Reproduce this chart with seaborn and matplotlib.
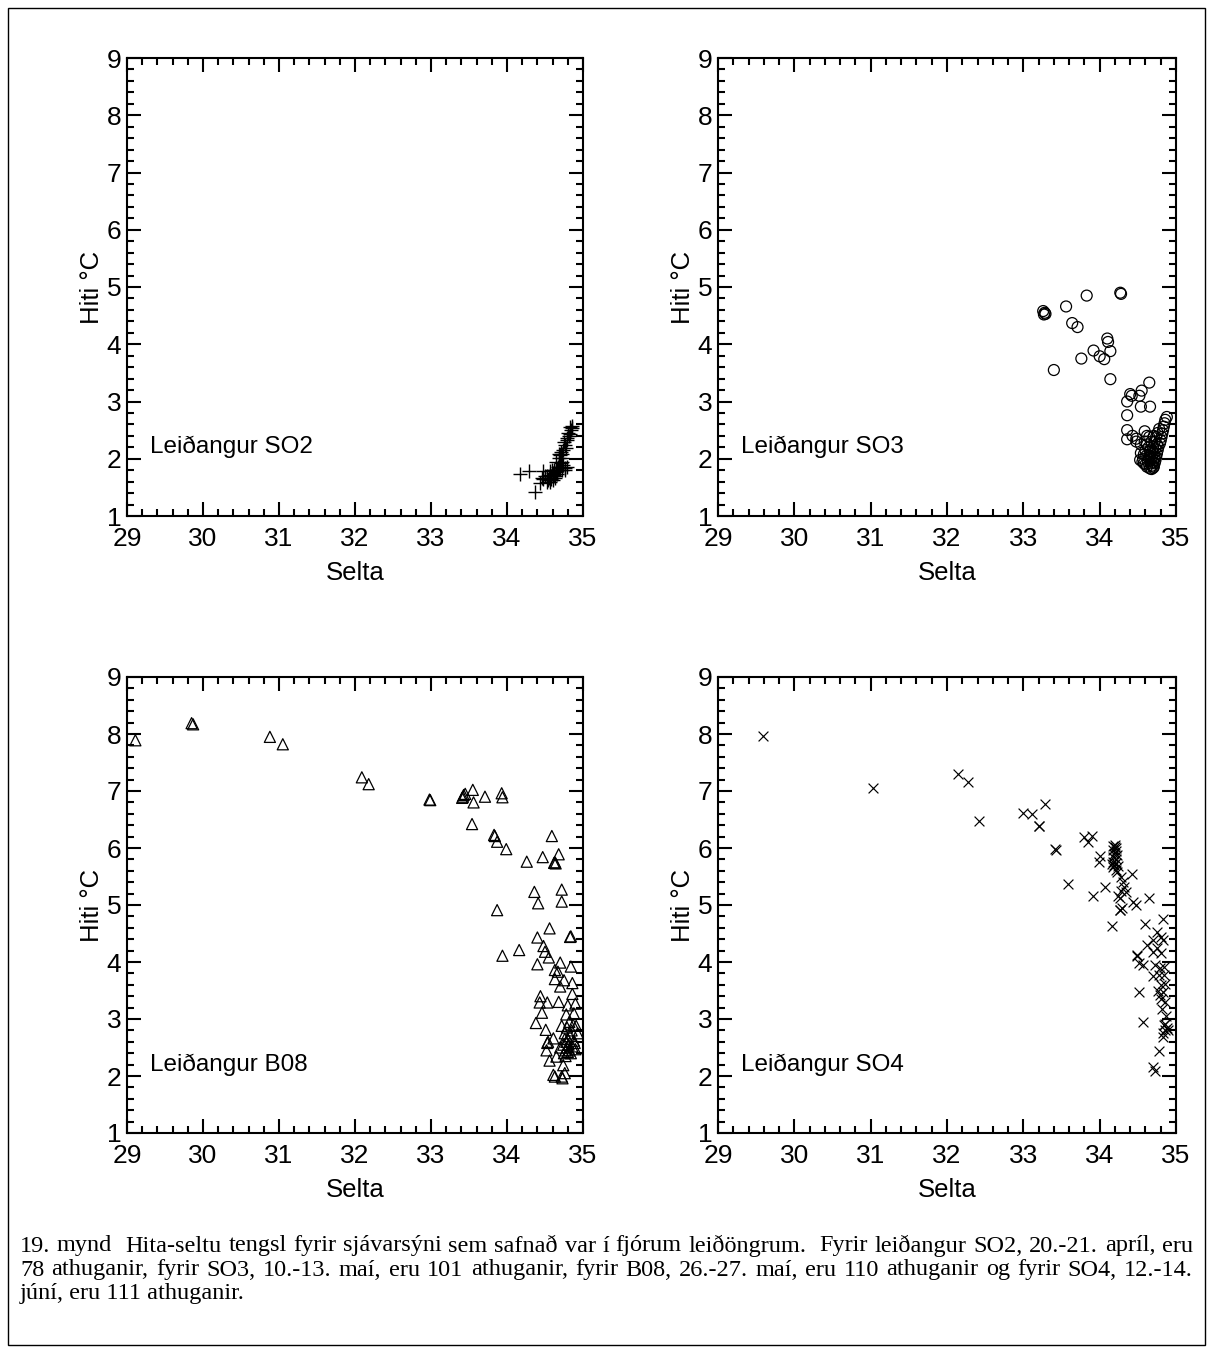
import matplotlib
matplotlib.use("Agg")
import matplotlib.pyplot as plt
from matplotlib.ticker import MultipleLocator
from matplotlib.patches import Rectangle
import seaborn as sns
import pandas as pd

# ---------------- data ----------------
so2_salt = [34.17, 34.29, 34.37, 34.48, 34.46, 34.50, 34.54, 34.57, 34.59, 34.61, 34.63, 34.65, 34.68,
            34.70, 34.72, 34.74, 34.76, 34.68, 34.70, 34.72, 34.74, 34.76, 34.79, 34.81, 34.83, 34.85,
            34.83, 34.79, 34.75, 34.63, 34.57, 34.52, 34.48, 34.43, 34.76, 34.79, 34.65, 34.69, 34.71,
            34.55, 34.58, 34.60, 34.62, 34.64, 34.66, 34.60, 34.67, 34.71, 34.73, 34.77, 34.80, 34.84,
            34.86, 34.73, 34.56, 34.53, 34.58, 34.62, 34.66]
so2_temp = [1.73, 1.79, 1.42, 1.79, 1.66, 1.69, 1.63, 1.72, 1.80, 1.75, 1.66, 1.77, 1.83,
            1.86, 1.80, 1.89, 1.83, 2.01, 2.07, 2.09, 2.15, 2.24, 2.33, 2.39, 2.44, 2.53,
            2.56, 2.36, 2.30, 1.69, 1.60, 1.60, 1.64, 1.57, 1.80, 1.85, 1.95, 2.09, 2.12,
            1.66, 1.69, 1.63, 1.72, 1.78, 1.74, 1.70, 1.86, 1.92, 1.95, 2.18, 2.45, 2.50,
            2.58, 2.01, 1.78, 1.70, 1.64, 1.80, 1.81]

so3_salt = [33.26, 33.27, 33.28, 33.29, 33.56, 33.83, 33.64, 33.71, 33.40, 33.76, 33.92, 34.27, 34.28,
            34.00, 34.06, 34.10, 34.11, 34.14, 34.14, 34.65, 34.55, 34.40, 34.42, 34.36, 34.52, 34.54,
            34.66, 34.36, 34.88, 34.36, 34.36, 34.43, 34.48, 34.59, 34.71,
            34.86, 34.85, 34.84, 34.83, 34.82, 34.81, 34.80, 34.79, 34.77, 34.76, 34.75, 34.74, 34.73,
            34.72, 34.71,
            34.54, 34.54, 34.53, 34.58, 34.62, 34.66, 34.68, 34.70,
            34.62, 34.66, 34.69, 34.64, 34.70, 34.72, 34.60, 34.63, 34.67, 34.69, 34.71, 34.73, 34.68,
            34.65, 34.61, 34.57, 34.59, 34.74, 34.76, 34.78, 34.70, 34.66, 34.72, 34.75, 34.64, 34.58,
            34.56, 34.60, 34.67, 34.69, 34.62, 34.48]
so3_temp = [4.58, 4.52, 4.55, 4.53, 4.66, 4.85, 4.37, 4.30, 3.55, 3.75, 3.89, 4.90, 4.88,
            3.79, 3.74, 4.10, 4.04, 3.88, 3.39, 3.33, 3.19, 3.13, 3.10, 3.00, 3.10, 2.91,
            2.91, 2.76, 2.73, 2.50, 2.34, 2.40, 2.35, 2.48, 2.40,
            2.68, 2.62, 2.56, 2.50, 2.44, 2.38, 2.32, 2.27, 2.21, 2.15, 2.09, 2.03, 1.97,
            1.92, 1.86,
            2.25, 2.10, 1.98, 1.92, 1.86, 1.83, 1.82, 1.84,
            2.25, 2.13, 2.02, 2.02, 2.20, 2.30, 2.15, 1.95, 1.92, 1.88, 2.10, 2.18, 2.30,
            2.38, 2.05, 2.00, 2.30, 2.38, 2.45, 2.52, 1.95, 2.05, 2.02, 2.25, 2.20, 2.08,
            1.95, 1.90, 1.99, 2.12, 2.40, 2.30]

b08_salt = [29.11, 29.85, 29.87, 30.88, 31.05, 32.09, 32.18, 32.98, 32.99, 33.42, 33.43, 33.45, 33.41,
            33.55, 33.56, 33.71, 33.93, 33.94, 33.54, 33.83, 33.84, 33.87, 33.99, 34.26, 34.47, 34.59,
            34.62, 34.63, 34.64, 34.68, 34.36, 34.41, 34.72, 34.72, 33.87, 33.94, 34.16, 34.40, 34.56,
            34.83, 34.84, 34.48, 34.50, 34.55, 34.40, 34.70, 34.84, 34.63, 34.67, 34.63, 34.75, 34.86,
            34.70, 34.44, 34.43, 34.53, 34.46, 34.68, 34.86, 34.80, 34.90, 34.78, 34.88, 34.38, 34.51,
            34.82, 34.61, 34.53, 34.54, 34.52, 34.65, 34.56, 34.74, 34.76, 34.61, 34.63, 34.72, 34.73,
            34.75, 34.77, 34.79, 34.81, 34.78, 34.80, 34.83, 34.76, 34.85, 34.79, 34.93, 34.88, 34.82,
            34.86, 34.74, 34.77, 34.80, 34.84, 34.89, 34.90, 34.76, 34.72, 34.87, 34.91, 34.70]
b08_temp = [7.89, 8.19, 8.17, 7.95, 7.82, 7.24, 7.12, 6.85, 6.84, 6.90, 6.93, 6.95, 6.88,
            7.02, 6.80, 6.90, 6.96, 6.89, 6.42, 6.23, 6.21, 6.11, 5.98, 5.76, 5.84, 6.21,
            5.74, 5.75, 5.73, 5.89, 5.23, 5.03, 5.27, 5.06, 4.91, 4.11, 4.21, 4.43, 4.59,
            4.44, 4.45, 4.28, 4.18, 4.08, 3.96, 3.99, 3.92, 3.86, 3.83, 3.70, 3.68, 3.63,
            3.57, 3.40, 3.29, 3.29, 3.11, 3.30, 3.44, 3.24, 3.27, 3.08, 3.10, 2.93, 2.81,
            2.95, 2.66, 2.58, 2.60, 2.45, 2.34, 2.27, 2.19, 2.05, 2.02, 1.99, 1.99, 1.96,
            2.40, 2.45, 2.50, 2.55, 2.60, 2.65, 2.70, 2.75, 2.80, 2.85, 2.75, 2.62, 2.45,
            2.52, 2.55, 2.35, 2.42, 2.40, 2.58, 2.47, 2.65, 2.88, 2.90, 2.88, 2.50]

so4_salt = [29.59, 31.03, 32.15, 32.28, 32.42, 33.00, 33.11, 33.28, 33.20, 33.21, 33.42, 33.43, 33.59,
            33.79, 33.85, 33.90, 34.00, 33.99, 33.91, 34.07, 34.16,
            34.18, 34.20, 34.22, 34.17, 34.21, 34.19, 34.23, 34.18, 34.21, 34.17, 34.22, 34.19, 34.24,
            34.18, 34.21, 34.23, 34.20, 34.16,
            34.28, 34.30, 34.32, 34.28, 34.34, 34.24, 34.27, 34.26, 34.27, 34.29, 34.42, 34.44, 34.48,
            34.65, 34.59, 34.83,
            34.75, 34.81, 34.70, 34.83, 34.62, 34.75, 34.70, 34.81, 34.49, 34.49, 34.51, 34.57, 34.73,
            34.79, 34.84, 34.70, 34.78, 34.84, 34.80, 34.86, 34.77, 34.83, 34.81, 34.86, 34.79, 34.51,
            34.57, 34.84, 34.88, 34.86, 34.83, 34.89, 34.85, 34.83, 34.78, 34.70, 34.72, 34.87, 34.82]
so4_temp = [7.97, 7.06, 7.29, 7.15, 6.48, 6.61, 6.60, 6.77, 6.39, 6.38, 5.98, 5.97, 5.37,
            6.19, 6.11, 6.21, 5.86, 5.76, 5.16, 5.32, 4.64,
            6.04, 6.02, 6.00, 5.97, 5.95, 5.90, 5.88, 5.84, 5.80, 5.76, 5.73, 5.70, 5.68,
            5.66, 5.62, 5.58, 6.05, 5.72,
            5.50, 5.41, 5.32, 5.25, 5.23, 5.16, 5.13, 4.92, 4.91, 4.94, 5.54, 5.06, 5.00,
            5.13, 4.67, 4.75,
            4.53, 4.44, 4.39, 4.39, 4.30, 4.24, 4.18, 4.15, 4.12, 4.10, 3.98, 3.95, 3.95,
            3.90, 3.92, 3.75, 3.78, 3.78, 3.60, 3.62, 3.50, 3.48, 3.35, 3.30, 3.42, 3.48,
            2.94, 2.89, 2.84, 2.80, 2.75, 2.80, 2.92, 2.68, 2.43, 2.15, 2.09, 3.05, 3.18]

panel_labels = ["Leiðangur SO2", "Leiðangur SO3", "Leiðangur B08", "Leiðangur SO4"]
x_label = "Selta"
y_label = "Hiti °C"
caption_lines = [
    "19. mynd  Hita-seltu tengsl fyrir sjávarsýni sem safnað var í fjórum leiðöngrum.  Fyrir leiðangur SO2, 20.-21. apríl, eru",
    "78 athuganir, fyrir SO3, 10.-13. maí, eru 101 athuganir, fyrir B08, 26.-27. maí, eru 110 athuganir og fyrir SO4, 12.-14.",
    "júní, eru 111 athuganir.",
]

# ---------------- style ----------------
sns.set_style("ticks")
plt.rcParams["font.family"] = ["Liberation Sans", "DejaVu Sans"]
plt.rcParams["text.color"] = "black"
plt.rcParams["axes.labelcolor"] = "black"
plt.rcParams["xtick.color"] = "black"
plt.rcParams["ytick.color"] = "black"

W, H = 1213, 1353
fig = plt.figure(figsize=(W / 100, H / 100), dpi=100)

def fx(px):
    return px / W

def fy(py):
    return 1 - py / H

positions = [
    [fx(127), fy(516), fx(456), 458 / H],
    [fx(718), fy(516), fx(458), 458 / H],
    [fx(127), fy(1133), fx(456), 456 / H],
    [fx(718), fy(1133), fx(458), 456 / H],
]

datasets = [
    (so2_salt, so2_temp, dict(marker="+", s=110, color="black", linewidth=1.0)),
    (so3_salt, so3_temp, dict(marker="o", s=62, facecolors="none", edgecolors="black", linewidths=0.9)),
    (b08_salt, b08_temp, dict(marker="^", s=64, facecolors="none", edgecolors="black", linewidths=0.9)),
    (so4_salt, so4_temp, dict(marker="x", s=50, color="black", linewidth=0.85)),
]

for pos, (sx, ty, kw), lab in zip(positions, datasets, panel_labels):
    ax = fig.add_axes(pos)
    df = pd.DataFrame({"Selta": sx, "Hiti": ty})
    sns.scatterplot(data=df, x="Selta", y="Hiti", ax=ax, legend=False, **kw)
    ax.set_xlim(29, 35)
    ax.set_ylim(1, 9)
    ax.xaxis.set_major_locator(MultipleLocator(1))
    ax.xaxis.set_minor_locator(MultipleLocator(0.2))
    ax.yaxis.set_major_locator(MultipleLocator(1))
    ax.yaxis.set_minor_locator(MultipleLocator(0.2))
    ax.tick_params(which="both", direction="in", top=True, right=True, width=1.5, colors="black")
    ax.tick_params(which="major", length=10, labelsize=19)
    ax.tick_params(axis="x", which="major", pad=8)
    ax.tick_params(axis="y", which="major", pad=4)
    ax.tick_params(which="minor", length=5)
    for sp in ax.spines.values():
        sp.set_linewidth(1.5)
        sp.set_color("black")
    ax.set_xlabel(x_label, fontsize=18.5, labelpad=7)
    ax.set_ylabel(y_label, fontsize=18.5, labelpad=2)
    ax.text(0.05, 0.15, lab, transform=ax.transAxes, fontsize=17.5, ha="left", va="center")

# figure border
fig.add_artist(Rectangle((fx(8), fy(1345)), fx(1205 - 8), (1345 - 8) / H,
                         transform=fig.transFigure, fill=False, edgecolor="black", linewidth=1))

# caption (justified lines)
renderer = fig.canvas.get_renderer()
cap_font = dict(family=["Liberation Serif", "DejaVu Serif"], fontsize=17.5)
x0, x1 = 20, 1193
line_y = [1246, 1270, 1294]
for i, (line, yy) in enumerate(zip(caption_lines, line_y)):
    if i < len(caption_lines) - 1:
        tokens = line.split(" ")
        widths = []
        texts = []
        for tok in tokens:
            t = fig.text(0, fy(yy), tok, ha="left", va="center", **cap_font)
            texts.append(t)
            widths.append(t.get_window_extent(renderer).width if tok else 0.0)
        gap = (x1 - x0 - sum(widths)) / (len(tokens) - 1)
        cur = x0
        for t, w in zip(texts, widths):
            t.set_x(fx(cur))
            cur += w + gap
    else:
        fig.text(fx(x0), fy(yy), line, ha="left", va="center", **cap_font)

fig.savefig("out.png", dpi=100)
